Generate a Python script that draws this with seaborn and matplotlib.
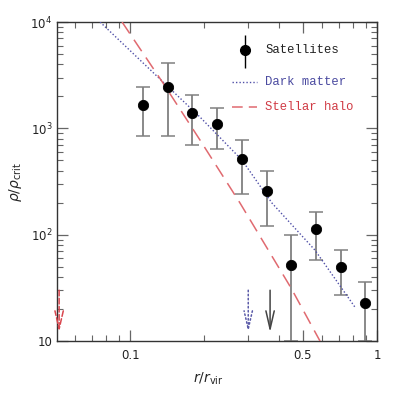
import numpy as np
import pandas as pd
import matplotlib
matplotlib.use('Agg')
import matplotlib.pyplot as plt
import seaborn as sns
from matplotlib.ticker import FixedLocator, FixedFormatter, NullFormatter

# 数据
r_sat = [0.113, 0.143, 0.178, 0.225, 0.284, 0.359, 0.449, 0.566, 0.715, 0.894]
rho_sat = [1656, 2447, 1393, 1097, 514, 257, 51.8, 113, 49.6, 22.7]
err_hi = [2450, 4110, 2056, 1550, 776, 396, 100, 163, 71.6, 35.8]
err_lo = [847, 847, 697, 638, 241, 120, 10, 57.7, 27, 10]

r_dm = [0.0756, 0.136, 0.192, 0.284, 0.376, 0.561, 0.815]
rho_dm = [10000, 2729, 1277, 503, 198, 71.6, 20.8]

r_halo = [0.0928, 0.136, 0.192, 0.279, 0.449, 0.588]
rho_halo = [10000, 2667, 776, 198, 31.5, 10]

arrow_x = [0.0516, 0.301, 0.369]
arrow_colors = ['#d9474f', '#5a5aa8', '#444444']
arrow_ls = ['--', ':', '-']

sns.set_style('ticks')
plt.rcParams['font.family'] = ['DejaVu Sans']
plt.rcParams['mathtext.fontset'] = 'dejavusans'

fig = plt.figure(figsize=(3.96, 3.93), dpi=100)
ax = fig.add_axes([0.144, 0.132, 0.808, 0.812])

df_sat = pd.DataFrame({'r': r_sat, 'rho': rho_sat})
df_dm = pd.DataFrame({'r': r_dm, 'rho': rho_dm})
df_halo = pd.DataFrame({'r': r_halo, 'rho': rho_halo})

# 误差棒
yerr = [np.array(rho_sat) - np.array(err_lo), np.array(err_hi) - np.array(rho_sat)]
ax.errorbar(r_sat, rho_sat, yerr=yerr, fmt='none', ecolor='#808080',
            elinewidth=1.3, capsize=5, capthick=1.1, zorder=2)

sns.lineplot(data=df_dm, x='r', y='rho', ax=ax, color='#5050a8', lw=1.0,
             ls=(0, (1, 1.5)), sort=False, zorder=3)
sns.lineplot(data=df_halo, x='r', y='rho', ax=ax, color='#e06a70', lw=1.1,
             ls=(0, (9, 5)), sort=False, zorder=3)
sns.scatterplot(data=df_sat, x='r', y='rho', ax=ax, color='black', s=55,
                edgecolor='black', zorder=4)

# 上限箭头
for x, c, ls in zip(arrow_x, arrow_colors, arrow_ls):
    ax.annotate('', xy=(x, 12.1), xytext=(x, 30.1),
                arrowprops=dict(arrowstyle='->,head_length=1.3,head_width=0.3',
                                color=c, lw=1.1, ls=ls, shrinkA=0, shrinkB=0))

ax.set_xscale('log')
ax.set_yscale('log')
ax.set_xlim(0.0506, 1.0)
ax.set_ylim(10, 10000)

ax.xaxis.set_major_locator(FixedLocator([0.1, 0.5, 1.0]))
ax.xaxis.set_major_formatter(FixedFormatter(['0.1', '0.5', '1']))
ax.xaxis.set_minor_locator(FixedLocator([0.06, 0.07, 0.08, 0.09, 0.2, 0.3, 0.4,
                                         0.6, 0.7, 0.8, 0.9]))
ax.xaxis.set_minor_formatter(NullFormatter())
ax.yaxis.set_major_locator(FixedLocator([10, 100, 1000, 10000]))
ax.yaxis.set_major_formatter(FixedFormatter(['10', r'$10^2$', r'$10^3$', r'$10^4$']))
ax.yaxis.set_minor_locator(FixedLocator([m * 10 ** e for e in (1, 2, 3) for m in range(2, 10)]))
ax.yaxis.set_minor_formatter(NullFormatter())

ax.tick_params(which='both', direction='in', top=True, right=True, colors='#666666',
               labelcolor='#222222', labelsize=8.5)
ax.tick_params(which='major', length=8, width=0.9)
ax.tick_params(which='minor', length=4, width=0.8)
ax.tick_params(axis='x', pad=6)
for s in ax.spines.values():
    s.set_color('#333333')
    s.set_linewidth(1.0)

ax.set_xlabel(r'$r/r_{\rm vir}$', fontsize=10)
ax.set_ylabel(r'$\rho/\rho_{\rm crit}$', fontsize=10)
ax.xaxis.set_label_coords(0.472, -0.091)
ax.yaxis.set_label_coords(-0.103, 0.5)

# 图例 (手工绘制)
ax.errorbar([0.292], [5460], yerr=[[5460 - 3690], [7540 - 5460]], fmt='o', color='black',
            ecolor='black', ms=7, elinewidth=1.0, capsize=0, zorder=5)
ax.plot([0.259, 0.327], [2729, 2729], color='#5050a8', lw=1.0, ls=(0, (1, 1.5)))
ax.plot([0.259, 0.327], [1585, 1585], color='#e06a70', lw=1.1, ls=(0, (7, 4)))
txt_kw = dict(fontsize=8.8, family=['Liberation Mono', 'DejaVu Sans Mono'], va='center')
ax.text(0.352, 5460, 'Satellites', color='#222222', **txt_kw)
ax.text(0.352, 2729, 'Dark matter', color='#4a4aa0', **txt_kw)
ax.text(0.352, 1585, 'Stellar halo', color='#d03a44', **txt_kw)

fig.savefig('out.png', dpi=100)
